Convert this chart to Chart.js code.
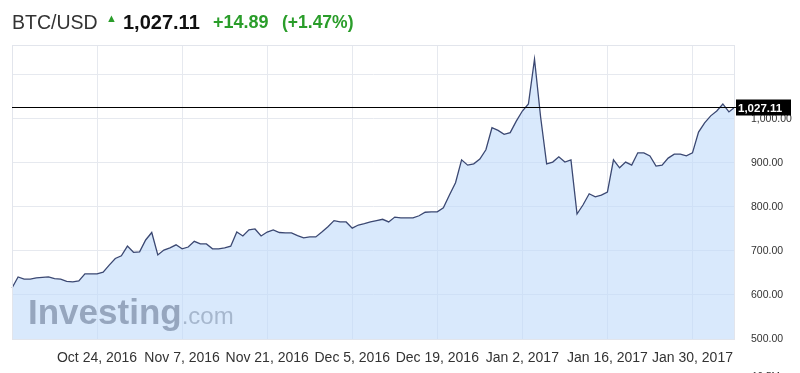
<!DOCTYPE html>
<html>
<head>
<meta charset="utf-8">
<script src="https://cdn.jsdelivr.net/npm/chart.js@4.4.0/dist/chart.umd.min.js"></script>
<style>
body { margin:0; background:#fff; }
#wrap { position:relative; width:800px; height:373px; overflow:hidden; }
#head span { position:absolute; top:12px; line-height:20px; white-space:nowrap; font-family:"Liberation Sans", Arial, sans-serif; }
</style>
</head>
<body>
<div id="wrap">
  <canvas id="btc" width="800" height="373"></canvas>
  <div id="head">
    <span style="left:12px;font-size:19.5px;color:#333;">BTC/USD</span>
    <span style="left:106px;top:8px;font-size:11px;color:#2a9d2a;">&#9650;</span>
    <span style="left:123px;font-size:20px;font-weight:bold;color:#111;">1,027.11</span>
    <span style="left:213px;font-size:18px;font-weight:bold;color:#2a9d2a;">+14.89</span>
    <span style="left:282px;font-size:17.5px;font-weight:bold;color:#2a9d2a;">(+1.47%)</span>
  </div>
</div>
<script>
// daily closes from Oct 10, 2016 to Feb 6, 2017
var closeValues = [
  616, 641, 636, 636, 639, 640, 641, 637, 636, 631,
  630, 632, 648, 648, 648, 652, 668, 683, 689, 711,
  697, 698, 725, 742, 691, 702, 707, 714, 705, 709,
  722, 716, 716, 705, 705, 707, 711, 743, 734, 748,
  750, 734, 743, 748, 742, 741, 741, 735, 730, 732,
  732, 743, 755, 769, 766, 766, 752, 759, 762, 766,
  769, 772, 766, 777, 775, 775, 775, 780, 788, 789,
  789, 798, 827, 855, 907, 895, 898, 909, 930, 980,
  974, 965, 969, 995, 1018, 1034, 1136, 1005, 898, 902,
  914, 902, 907, 784, 805, 830, 823, 827, 834, 907,
  889, 902, 895, 923, 923, 916, 893, 895, 911, 920,
  920, 916, 923, 970, 991, 1007, 1018, 1034, 1016, 1027.11
];
var lastPrice = 1027.11;
var tickLabels = ['Oct 24, 2016', 'Nov 7, 2016', 'Nov 21, 2016', 'Dec 5, 2016',
                  'Dec 19, 2016', 'Jan 2, 2017', 'Jan 16, 2017', 'Jan 30, 2017'];
var yTickValues = [500, 600, 700, 800, 900, 1000];
var monthNames = ['Jan','Feb','Mar','Apr','May','Jun','Jul','Aug','Sep','Oct','Nov','Dec'];

var categories = [];
for (var i = 0; i < closeValues.length; i++) {
    var d = new Date(2016, 9, 10 + i);
    categories.push(monthNames[d.getMonth()] + ' ' + d.getDate() + ', ' + d.getFullYear());
}

function fmt(v) {
    return v.toLocaleString('en-US', {minimumFractionDigits:2, maximumFractionDigits:2});
}

var extras = {
    id:'extras',
    afterDatasetsDraw:function(chart) {
        var ctx = chart.ctx, a = chart.chartArea;
        var y = Math.round(chart.scales.y.getPixelForValue(lastPrice)) + 0.5;
        ctx.save();
        // frame
        ctx.strokeStyle = '#e2e5ec';
        ctx.lineWidth = 1;
        ctx.strokeRect(a.left + 0.5, a.top + 0.5, a.right - a.left - 1, a.bottom - a.top);
        // watermark
        ctx.textBaseline = 'alphabetic';
        ctx.textAlign = 'left';
        ctx.fillStyle = 'rgba(105,122,148,0.6)';
        ctx.font = 'bold 35px "Liberation Sans", Arial, sans-serif';
        ctx.fillText('Investing', 28, 324);
        var w = ctx.measureText('Investing').width;
        ctx.fillStyle = 'rgba(105,122,148,0.45)';
        ctx.font = '24px "Liberation Sans", Arial, sans-serif';
        ctx.fillText('.com', 28 + w, 324);
        // last price line
        ctx.strokeStyle = '#000';
        ctx.beginPath();
        ctx.moveTo(a.left, y);
        ctx.lineTo(a.right + 1, y);
        ctx.stroke();
        // price tag
        ctx.fillStyle = '#000';
        ctx.fillRect(a.right + 1, y - 8, 55, 16);
        ctx.fillStyle = '#fff';
        ctx.font = 'bold 11.5px "Liberation Sans", Arial, sans-serif';
        ctx.textBaseline = 'middle';
        ctx.fillText(fmt(lastPrice), a.right + 3, y + 1);
        // volume axis label, cut by the bottom edge
        ctx.fillStyle = '#333';
        ctx.font = '10px "Liberation Sans", Arial, sans-serif';
        ctx.textBaseline = 'alphabetic';
        ctx.fillText('10.5M', 752, 380);
        ctx.restore();
    }
};

var chart = new Chart(document.getElementById('btc'), {
    type:'line',
    data:{
        labels:categories,
        datasets:[{
            label:'BTC/USD',
            data:closeValues,
            fill:'start',
            backgroundColor:'rgba(192,218,250,0.6)',
            borderColor:'#3b4872',
            borderWidth:1.3,
            pointRadius:0,
            tension:0
        }]
    },
    options:{
        responsive:false,
        animation:false,
        layout:{padding:{top:45, left:12, right:0, bottom:0}},
        plugins:{legend:{display:false}, tooltip:{enabled:false}},
        scales:{
            x:{
                grid:{color:'#e6e9ef', drawTicks:false},
                border:{display:false},
                afterFit:function(s){ s.height = 34; },
                ticks:{
                    autoSkip:false,
                    maxRotation:0,
                    padding:11,
                    color:'#333',
                    font:{family:'"Liberation Sans", Arial, sans-serif', size:14},
                    callback:function(val, idx) {
                        var lab = categories[idx];
                        return tickLabels.indexOf(lab) >= 0 ? lab : null;
                    }
                }
            },
            y:{
                position:'right',
                min:500,
                max:1168,
                grid:{color:'#e6e9ef', drawTicks:false},
                border:{display:false},
                afterFit:function(s){ s.width = 65; },
                ticks:{
                    stepSize:100,
                    padding:16,
                    color:'#333',
                    font:{family:'"Liberation Sans", Arial, sans-serif', size:10.5},
                    callback:function(v) {
                        return yTickValues.indexOf(v) >= 0 ? fmt(v) : '';
                    }
                }
            }
        }
    },
    plugins:[extras]
});
</script>
</body>
</html>
